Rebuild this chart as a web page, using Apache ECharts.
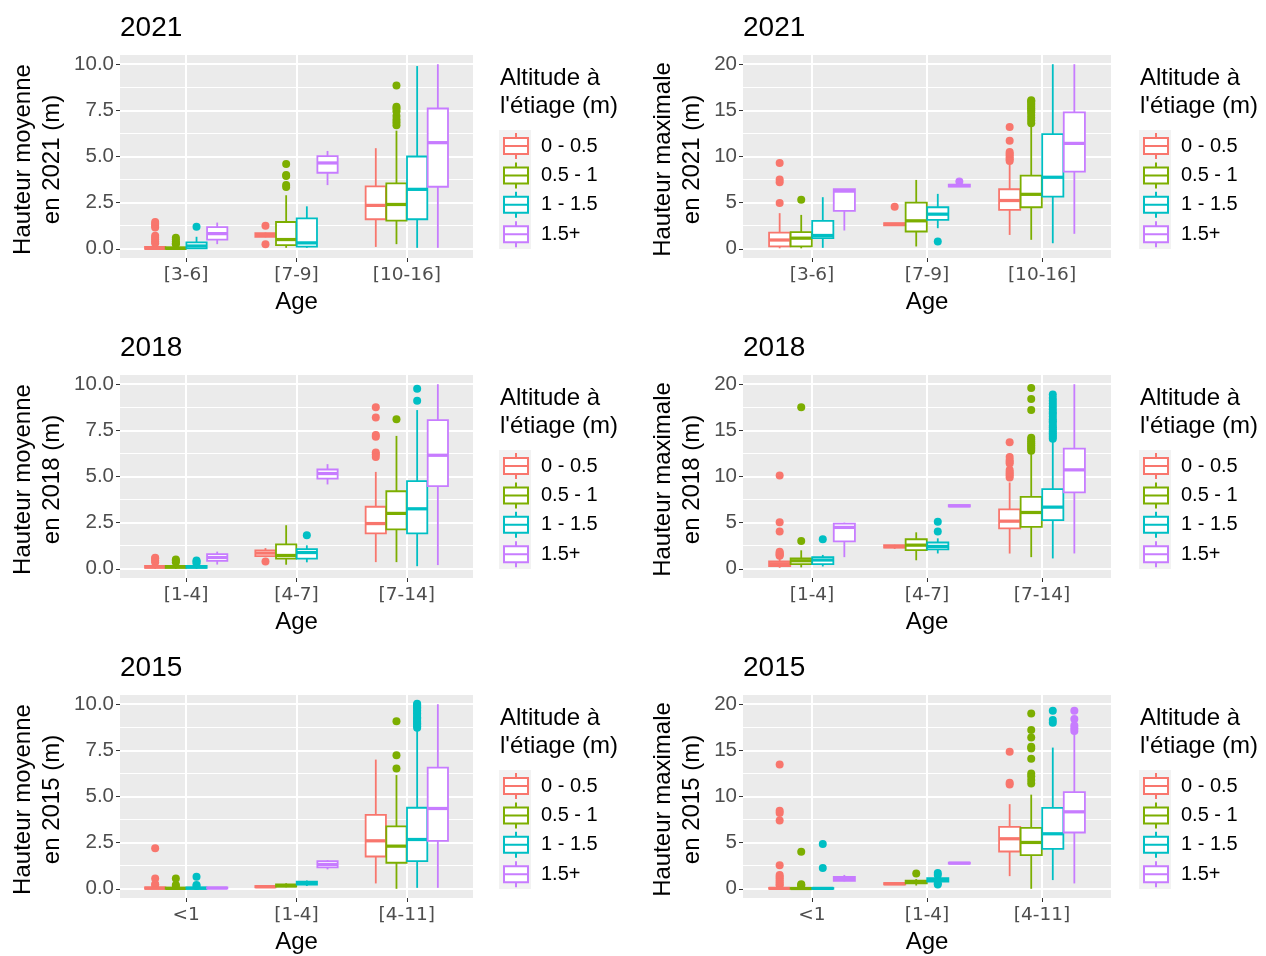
<!DOCTYPE html>
<html><head><meta charset="utf-8">
<script src="https://cdn.jsdelivr.net/npm/echarts@6/dist/echarts.min.js"></script>
<style>html,body{margin:0;padding:0;background:#fff}#c{width:1266px;height:956px}</style>
</head><body><div id="c"></div>
<script>
// ---------- DATA ----------
const groups = ['0 - 0.5', '0.5 - 1', '1 - 1.5', '1.5+'];
const colors = ['#F8766D', '#7CAE00', '#00BFC4', '#C77CFF'];

const cats21 = ['[3-6]', '[7-9]', '[10-16]'];
const cats18 = ['[1-4]', '[4-7]', '[7-14]'];
const cats15 = ['<1', '[1-4]', '[4-11]'];

const ticksMean = [0, 2.5, 5, 7.5, 10];
const minorMean = [1.25, 3.75, 6.25, 8.75];
const ticksMax = [0, 5, 10, 15, 20];
const minorMax = [2.5, 7.5, 12.5, 17.5];

// box stats per category: [lower whisker, Q1, median, Q3, upper whisker]
// Hauteur moyenne 2021
const m21_a = [[0, 0, 0.02, 0.1, 0.25], [0.62, 0.64, 0.75, 0.85, 0.88], [0.1, 1.6, 2.35, 3.38, 5.45]];
const m21_b = [[0, 0, 0.02, 0.08, 0.2], [0.05, 0.2, 0.5, 1.45, 2.9], [0.25, 1.52, 2.4, 3.54, 6.4]];
const m21_c = [[0, 0.02, 0.15, 0.35, 0.65], [0.05, 0.12, 0.32, 1.65, 2.3], [0.05, 1.6, 3.22, 5.0, 9.9]];
const m21_d = [[0.25, 0.5, 0.82, 1.17, 1.42], [3.45, 4.12, 4.65, 5.02, 5.3], [0.05, 3.36, 5.75, 7.6, 10.0]];
const m21_a_out = [[0.3, 0.4, 0.5, 0.6, 0.7, 1.15, 1.25, 1.35, 1.45], [0.25, 1.25], []];
const m21_b_out = [[0.25, 0.3, 0.4, 0.5, 0.6], [3.35, 3.45, 3.95, 4.0, 4.6], [6.7, 6.85, 7.0, 7.2, 7.45, 7.6, 7.7, 8.85]];
const m21_c_out = [[1.2], [], []];
const m21_d_out = [[], [], []];

// Hauteur maximale 2021
const x21_a = [[0.05, 0.25, 0.95, 1.76, 3.86], [2.5, 2.55, 2.65, 2.78, 2.8], [1.5, 4.22, 5.23, 6.45, 9.26]];
const x21_b = [[0.05, 0.25, 1.15, 1.8, 3.67], [0.25, 1.87, 3.03, 5.01, 7.46], [0.97, 4.5, 5.9, 7.93, 13.4]];
const x21_c = [[0.1, 1.15, 1.44, 3.03, 5.59], [2.23, 3.14, 3.75, 4.5, 5.95], [0.6, 5.66, 7.75, 12.43, 20]];
const x21_d = [[1.98, 4.11, 6.25, 6.45, 6.45], [6.7, 6.75, 6.85, 6.95, 7.0], [1.62, 8.36, 11.42, 14.78, 20]];
const x21_a_out = [[4.95, 7.2, 7.5, 9.3], [4.55], [9.5, 9.7, 9.9, 10.1, 10.3, 10.5, 11.7, 13.2]];
const x21_b_out = [[5.3], [], [13.6, 13.9, 14.2, 14.5, 14.8, 15.0, 15.2, 15.4, 15.6, 15.8, 16.0, 16.1]];
const x21_c_out = [[], [0.8], []];
const x21_d_out = [[], [7.3], []];

// Hauteur moyenne 2018
const m18_a = [[0, 0.05, 0.1, 0.15, 0.25], [0.65, 0.69, 0.85, 1.0, 1.12], [0.36, 1.92, 2.45, 3.36, 5.25]];
const m18_b = [[0, 0.05, 0.1, 0.15, 0.25], [0.22, 0.55, 0.72, 1.32, 2.36], [0.36, 2.13, 3.0, 4.2, 7.2]];
const m18_c = [[0, 0.05, 0.1, 0.15, 0.25], [0.35, 0.55, 0.88, 1.06, 1.27], [0.14, 1.92, 3.25, 4.75, 8.6]];
const m18_d = [[0.23, 0.43, 0.61, 0.79, 0.93], [4.57, 4.89, 5.16, 5.38, 5.67], [0.2, 4.48, 6.15, 8.06, 10.0]];
const m18_a_out = [[0.35, 0.45, 0.55, 0.6], [0.4], [6.05, 6.2, 6.3, 7.15, 7.25, 8.2, 8.75]];
const m18_b_out = [[0.35, 0.45, 0.5], [], [8.1]];
const m18_c_out = [[0.3, 0.4, 0.45], [1.82], [9.1, 9.75]];
const m18_d_out = [[], [], []];

// Hauteur maximale 2018
const x18_a = [[0.1, 0.3, 0.55, 0.8, 1.3], [2.15, 2.3, 2.4, 2.55, 2.6], [1.65, 4.37, 5.16, 6.43, 9.35]];
const x18_b = [[0.15, 0.5, 0.87, 1.12, 2.0], [0.92, 2.02, 2.56, 3.2, 3.95], [1.26, 4.55, 6.1, 7.8, 12.5]];
const x18_c = [[0.25, 0.5, 0.95, 1.26, 1.5], [1.66, 2.1, 2.42, 2.85, 3.3], [1.12, 5.27, 6.68, 8.63, 13.9]];
const x18_d = [[1.26, 2.96, 4.48, 4.9, 5.0], [6.7, 6.75, 6.82, 6.9, 6.95], [1.66, 8.27, 10.72, 13.03, 20]];
const x18_a_out = [[1.4, 1.5, 1.6, 1.7, 1.85, 4.05, 5.05, 10.1], [], [9.9, 10.1, 10.3, 10.5, 10.7, 11.4, 11.6, 11.8, 12.1, 13.7]];
const x18_b_out = [[3.0, 17.5], [], [12.8, 13.0, 13.2, 13.4, 13.6, 13.8, 14.0, 14.2, 17.2, 18.4, 19.6]];
const x18_c_out = [[3.2], [4.04, 5.09], [14.1, 14.3, 14.5, 14.7, 14.9, 15.1, 15.3, 15.5, 15.8, 16.0, 16.2, 16.5, 16.8, 17.0, 17.3, 17.6, 17.9, 18.2, 18.5, 18.9]];
const x18_d_out = [[], [], []];

// Hauteur moyenne 2015
const m15_a = [[0, 0, 0.03, 0.08, 0.15], [0.05, 0.08, 0.11, 0.15, 0.2], [0.29, 1.75, 2.6, 4.0, 7.0]];
const m15_b = [[0, 0, 0.02, 0.06, 0.12], [0.08, 0.12, 0.17, 0.24, 0.3], [0, 1.41, 2.31, 3.38, 6.16]];
const m15_c = [[0, 0, 0.03, 0.07, 0.12], [0.15, 0.22, 0.29, 0.38, 0.45], [0.05, 1.5, 2.67, 4.39, 8.59]];
const m15_d = [[0, 0.02, 0.04, 0.07, 0.1], [1.05, 1.16, 1.32, 1.5, 1.55], [0.05, 2.6, 4.35, 6.57, 10.0]];
const m15_a_out = [[0.2, 0.25, 0.55, 2.2], [], []];
const m15_b_out = [[0.15, 0.2, 0.55], [], [6.52, 7.24, 9.08]];
const m15_c_out = [[0.15, 0.2, 0.65], [], [8.72, 8.8, 8.9, 8.97, 9.05, 9.15, 9.22, 9.3, 9.41, 9.5, 9.58, 9.66, 9.75, 9.83, 9.9, 9.97, 10.02]];
const m15_d_out = [[], [], []];

// Hauteur maximale 2015
const x15_a = [[0, 0, 0.04, 0.1, 0.25], [0.42, 0.47, 0.54, 0.62, 0.68], [1.37, 4.04, 5.42, 6.71, 9.17]];
const x15_b = [[0, 0, 0.03, 0.08, 0.2], [0.35, 0.58, 0.72, 0.88, 1.05], [0, 3.65, 5.02, 6.6, 10.2]];
const x15_c = [[0, 0, 0.04, 0.08, 0.15], [0.7, 0.78, 0.98, 1.15, 1.3], [0.94, 4.33, 5.96, 8.77, 15.3]];
const x15_d = [[0.8, 0.87, 1.1, 1.3, 1.5], [2.7, 2.73, 2.78, 2.83, 2.86], [0.58, 6.1, 8.34, 10.47, 17.0]];
const x15_a_out = [[0.35, 0.5, 0.7, 0.9, 1.1, 1.3, 1.5, 2.56, 7.4, 8.2, 8.45, 13.47], [], [11.3, 11.5, 14.84]];
const x15_b_out = [[0.3, 0.42, 0.5, 4.0], [1.66], [11.4, 11.8, 12.2, 12.5, 14.1, 15.2, 15.4, 16.4, 17.2, 19.0]];
const x15_c_out = [[2.24, 4.84], [0.45, 0.6, 1.5, 1.7], [18.0, 18.3, 19.3]];
const x15_d_out = [[], [], [17.1, 17.4, 17.7, 18.4, 19.3]];

// ---------- LAYOUT ----------
const FONT = '"Liberation Sans", Arial, Helvetica, sans-serif';
const TICKFONT = '"DejaVu Sans", "Liberation Sans", sans-serif';
const OFFS = [-0.28125, -0.09375, 0.09375, 0.28125];
const HALF = 0.092;
const LW = 1.8;
const R = 4;

const panels = [
  { year: '2021', yTitle: 'Hauteur moyenne\nen 2021 (m)', cats: cats21, mean: true, col: 0, row: 0,
    boxes: [m21_a, m21_b, m21_c, m21_d], outs: [m21_a_out, m21_b_out, m21_c_out, m21_d_out] },
  { year: '2021', yTitle: 'Hauteur maximale\nen 2021 (m)', cats: cats21, mean: false, col: 1, row: 0,
    boxes: [x21_a, x21_b, x21_c, x21_d], outs: [x21_a_out, x21_b_out, x21_c_out, x21_d_out] },
  { year: '2018', yTitle: 'Hauteur moyenne\nen 2018 (m)', cats: cats18, mean: true, col: 0, row: 1,
    boxes: [m18_a, m18_b, m18_c, m18_d], outs: [m18_a_out, m18_b_out, m18_c_out, m18_d_out] },
  { year: '2018', yTitle: 'Hauteur maximale\nen 2018 (m)', cats: cats18, mean: false, col: 1, row: 1,
    boxes: [x18_a, x18_b, x18_c, x18_d], outs: [x18_a_out, x18_b_out, x18_c_out, x18_d_out] },
  { year: '2015', yTitle: 'Hauteur moyenne\nen 2015 (m)', cats: cats15, mean: true, col: 0, row: 2,
    boxes: [m15_a, m15_b, m15_c, m15_d], outs: [m15_a_out, m15_b_out, m15_c_out, m15_d_out] },
  { year: '2015', yTitle: 'Hauteur maximale\nen 2015 (m)', cats: cats15, mean: false, col: 1, row: 2,
    boxes: [x15_a, x15_b, x15_c, x15_d], outs: [x15_a_out, x15_b_out, x15_c_out, x15_d_out] }
];

const COLS = [
  { left: 120, width: 353, yTitleX: 37.5, legX: 500 },
  { left: 743, width: 368, yTitleX: 677.5, legX: 1140 }
];
const ROW_H = 320, PANEL_TOP = 55, PANEL_H = 203;

const ICON = 'path://M12,0L12,5M0,5L24,5L24,21L0,21ZM0,13L24,13M12,21L12,26';

function boxRenderer(outList, gi) {
  return function (params, api) {
    const xc = api.value(0) + OFFS[gi];
    const lo = api.value(1), q1 = api.value(2), md = api.value(3), q3 = api.value(4), hi = api.value(5);
    const col = api.visual('color');
    const pHi = api.coord([xc, hi]);
    const pQ3 = api.coord([xc, q3]);
    const pMd = api.coord([xc, md]);
    const pQ1 = api.coord([xc, q1]);
    const pLo = api.coord([xc, lo]);
    const left = api.coord([xc - HALF, q3])[0];
    const right = api.coord([xc + HALF, q3])[0];
    const ch = [];
    (outList[params.dataIndex] || []).forEach(function (o) {
      const p = api.coord([xc, o]);
      ch.push({ type: 'circle', shape: { cx: p[0], cy: p[1], r: R }, style: { fill: col } });
    });
    ch.push({ type: 'line', shape: { x1: pHi[0], y1: pHi[1], x2: pQ3[0], y2: pQ3[1] }, style: { stroke: col, lineWidth: LW } });
    ch.push({ type: 'line', shape: { x1: pQ1[0], y1: pQ1[1], x2: pLo[0], y2: pLo[1] }, style: { stroke: col, lineWidth: LW } });
    ch.push({ type: 'rect', shape: { x: left, y: pQ3[1], width: right - left, height: Math.max(pQ1[1] - pQ3[1], 0) },
      style: { fill: '#fff', stroke: col, lineWidth: LW } });
    ch.push({ type: 'line', shape: { x1: left, y1: pMd[1], x2: right, y2: pMd[1] }, style: { stroke: col, lineWidth: LW * 1.8 } });
    return { type: 'group', children: ch };
  };
}

const grid = [], xAxis = [], yAxis = [], series = [], legend = [], graphic = [];

panels.forEach(function (p, pi) {
  const C = COLS[p.col];
  const top = PANEL_TOP + p.row * ROW_H;
  const ticks = p.mean ? ticksMean : ticksMax;
  const minor = p.mean ? minorMean : minorMax;
  const ymin = p.mean ? -0.5 : -1;
  const ymax = p.mean ? 10.5 : 21;
  grid.push({ left: C.left, top: top, width: C.width, height: PANEL_H, show: true, backgroundColor: '#EBEBEB', borderWidth: 0 });
  xAxis.push({
    type: 'value', gridIndex: pi, min: -0.6, max: 2.6, position: 'bottom',
    axisLine: { show: false, onZero: false },
    axisTick: { show: true, length: 4, lineStyle: { color: '#333', width: 1 }, customValues: [0, 1, 2] },
    axisLabel: { customValues: [0, 1, 2], formatter: function (v) { return p.cats[Math.round(v)]; },
      fontFamily: TICKFONT, fontSize: 18.5, color: '#4D4D4D', margin: 8 },
    splitLine: { show: true, lineStyle: { color: '#fff', width: 2 } }
  });
  yAxis.push({
    type: 'value', gridIndex: pi, min: ymin, max: ymax, position: 'left',
    axisLine: { show: false, onZero: false },
    axisTick: { show: true, length: 4, lineStyle: { color: '#333', width: 1 }, customValues: ticks },
    axisLabel: { customValues: ticks, formatter: function (v) { return p.mean ? v.toFixed(1) : String(v); },
      fontFamily: FONT, fontSize: 20.5, color: '#4D4D4D', margin: 6 },
    splitLine: { show: true, lineStyle: { color: '#fff', width: 2 } }
  });
  yAxis.push({
    type: 'value', gridIndex: pi, min: ymin, max: ymax, position: 'right',
    axisLine: { show: false, onZero: false },
    axisTick: { show: false, customValues: minor },
    axisLabel: { show: false, customValues: minor },
    splitLine: { show: true, lineStyle: { color: '#fff', width: 1 } }
  });
  groups.forEach(function (g, gi) {
    series.push({
      type: 'custom', name: g, xAxisIndex: pi, yAxisIndex: pi * 2,
      itemStyle: { color: colors[gi], borderColor: colors[gi] },
      encode: { x: 0, y: [1, 2, 3, 4, 5] },
      data: p.boxes[gi].map(function (b, ci) { return [ci].concat(b); }),
      renderItem: boxRenderer(p.outs[gi], gi),
      silent: true, animation: false
    });
  });
  // legend
  legend.push({
    orient: 'vertical', left: C.legX + 3, top: top + 77, padding: 0,
    itemWidth: 24, itemHeight: 26, itemGap: 1.4, selectedMode: false,
    textStyle: { fontFamily: FONT, fontSize: 20, color: '#000', padding: [0, 0, 0, 8] },
    data: groups.map(function (g, gi) {
      return { name: g, icon: ICON, itemStyle: { color: '#fff', borderColor: colors[gi], borderWidth: 2 } };
    })
  });
  graphic.push({ type: 'rect', z: 0, shape: { x: C.legX - 1, y: top + 75, width: 32, height: 119 }, style: { fill: '#F2F2F2' } });
  // texts
  graphic.push({ type: 'text', x: C.left, y: top - 27, style: { text: p.year, font: '28px ' + FONT, fill: '#000', verticalAlign: 'middle', align: 'left' } });
  graphic.push({ type: 'text', x: C.yTitleX, y: top + PANEL_H / 2 + 3, rotation: Math.PI / 2,
    style: { text: p.yTitle, font: '24px ' + FONT, fill: '#000', align: 'center', verticalAlign: 'middle', lineHeight: 29 } });
  graphic.push({ type: 'text', x: C.left + C.width / 2, y: top + 247, style: { text: 'Age', font: '24px ' + FONT, fill: '#000', align: 'center', verticalAlign: 'middle' } });
  graphic.push({ type: 'text', x: C.legX, y: top + 37, style: { text: "Altitude à\nl'étiage (m)", font: '24px ' + FONT, fill: '#000', align: 'left', verticalAlign: 'middle', lineHeight: 28 } });
});

const chart = echarts.init(document.getElementById('c'), null, { renderer: 'canvas' });
chart.setOption({
  backgroundColor: '#fff',
  animation: false,
  grid: grid, xAxis: xAxis, yAxis: yAxis, series: series, legend: legend, graphic: graphic
});
</script>
</body></html>
